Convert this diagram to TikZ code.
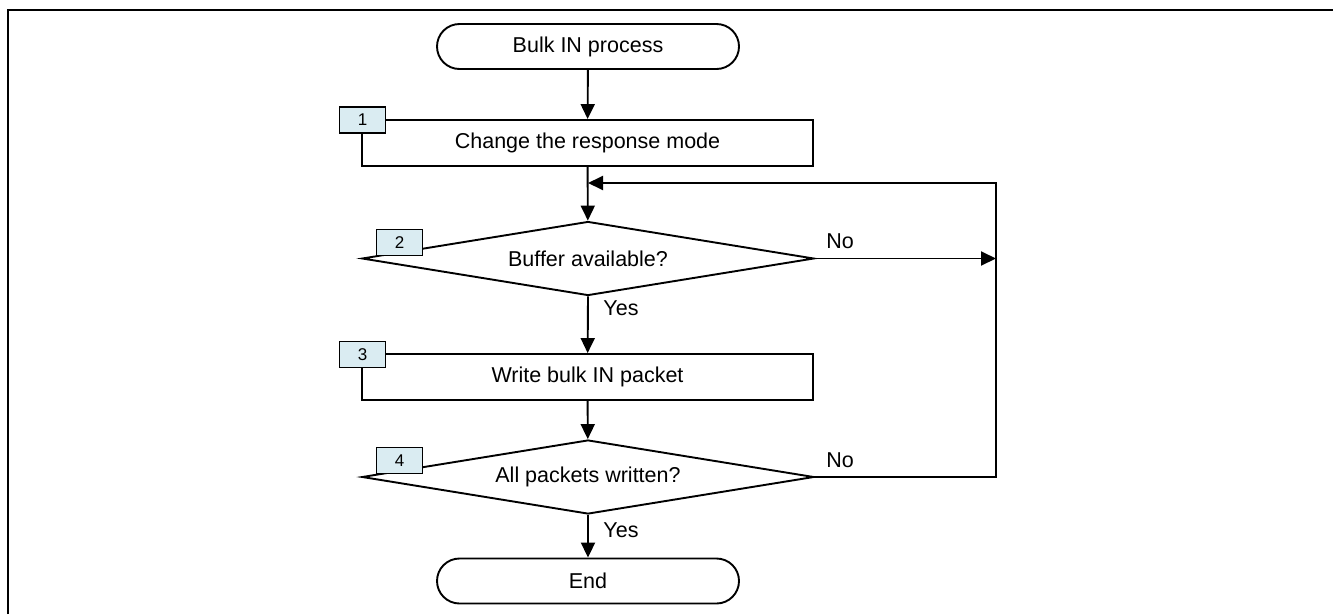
\documentclass[tikz,border=0pt]{standalone}
\usepackage{fontspec}
\setmainfont{Liberation Sans}
\usetikzlibrary{arrows.meta,shapes.geometric}
\definecolor{tagblue}{RGB}{218,236,242}
\tikzset{
  every node/.style={font=\fontsize{21.5}{24}\selectfont},
  line/.style={line width=1.9pt},
  arr/.style={line, -{Triangle[length=15pt,width=14pt]}},
  term/.style={draw, line width=1.9pt, rectangle, rounded corners=22.5pt, minimum width=302pt, minimum height=45pt, inner sep=0pt},
  procbox/.style={draw, line width=1.9pt, rectangle, minimum width=451pt, minimum height=46pt, inner sep=0pt},
  decision/.style={draw, line width=1.9pt, diamond, aspect=6.2, minimum width=452pt, minimum height=74pt, inner sep=0pt},
  tag/.style={draw, line width=1.9pt, fill=tagblue, minimum width=46pt, minimum height=26pt, inner sep=0pt, font=\fontsize{17}{19}\selectfont},
  lbl/.style={inner sep=0pt}
}
\begin{document}
\begin{tikzpicture}[x=1pt,y=-1pt]
\useasboundingbox (0,0) rectangle (1333,614);
% frame
\draw[line width=2.2pt] (8,614) -- (8,10) -- (1333,10);

\node[term] (start) at (588,46.5) {Bulk IN process};
\node[procbox] (b1) at (587.5,143) {Change the response mode};
\node[decision] (d2) at (588,258.5) {Buffer available?};
\node[procbox] (b3) at (587.5,377) {Write bulk IN packet};
\node[decision] (d4) at (588,477) {All packets written?};
\node[term] (end) at (588,581) {End};

\coordinate (m1) at (588,183);
\coordinate (c1) at (996,183);
\coordinate (r1) at (996,258.5);
\coordinate (r2) at (996,477);

\draw[arr] (start) -- (b1);
\draw[arr] (b1) -- (d2);
\draw[arr] (d2.east) -- (r1);
\draw[arr] (d4.east) -- (r2) -- (c1) -- (m1);
\draw[arr] (d2.south) -- (b3);
\draw[arr] (b3) -- (d4);
\draw[arr] (d4.south) -- (end);

\node[lbl] (no1) at (840,241) {No};
\node[lbl] (no2) at (840,460) {No};
\node[lbl] (yes1) at (621,308) {Yes};
\node[lbl] (yes2) at (621,530) {Yes};

\node[tag] (t1) at (362.5,120) {1};
\node[tag] (t2) at (399.5,242.5) {2};
\node[tag] (t3) at (362.5,354.5) {3};
\node[tag] (t4) at (399.5,460.5) {4};
\end{tikzpicture}
\end{document}
